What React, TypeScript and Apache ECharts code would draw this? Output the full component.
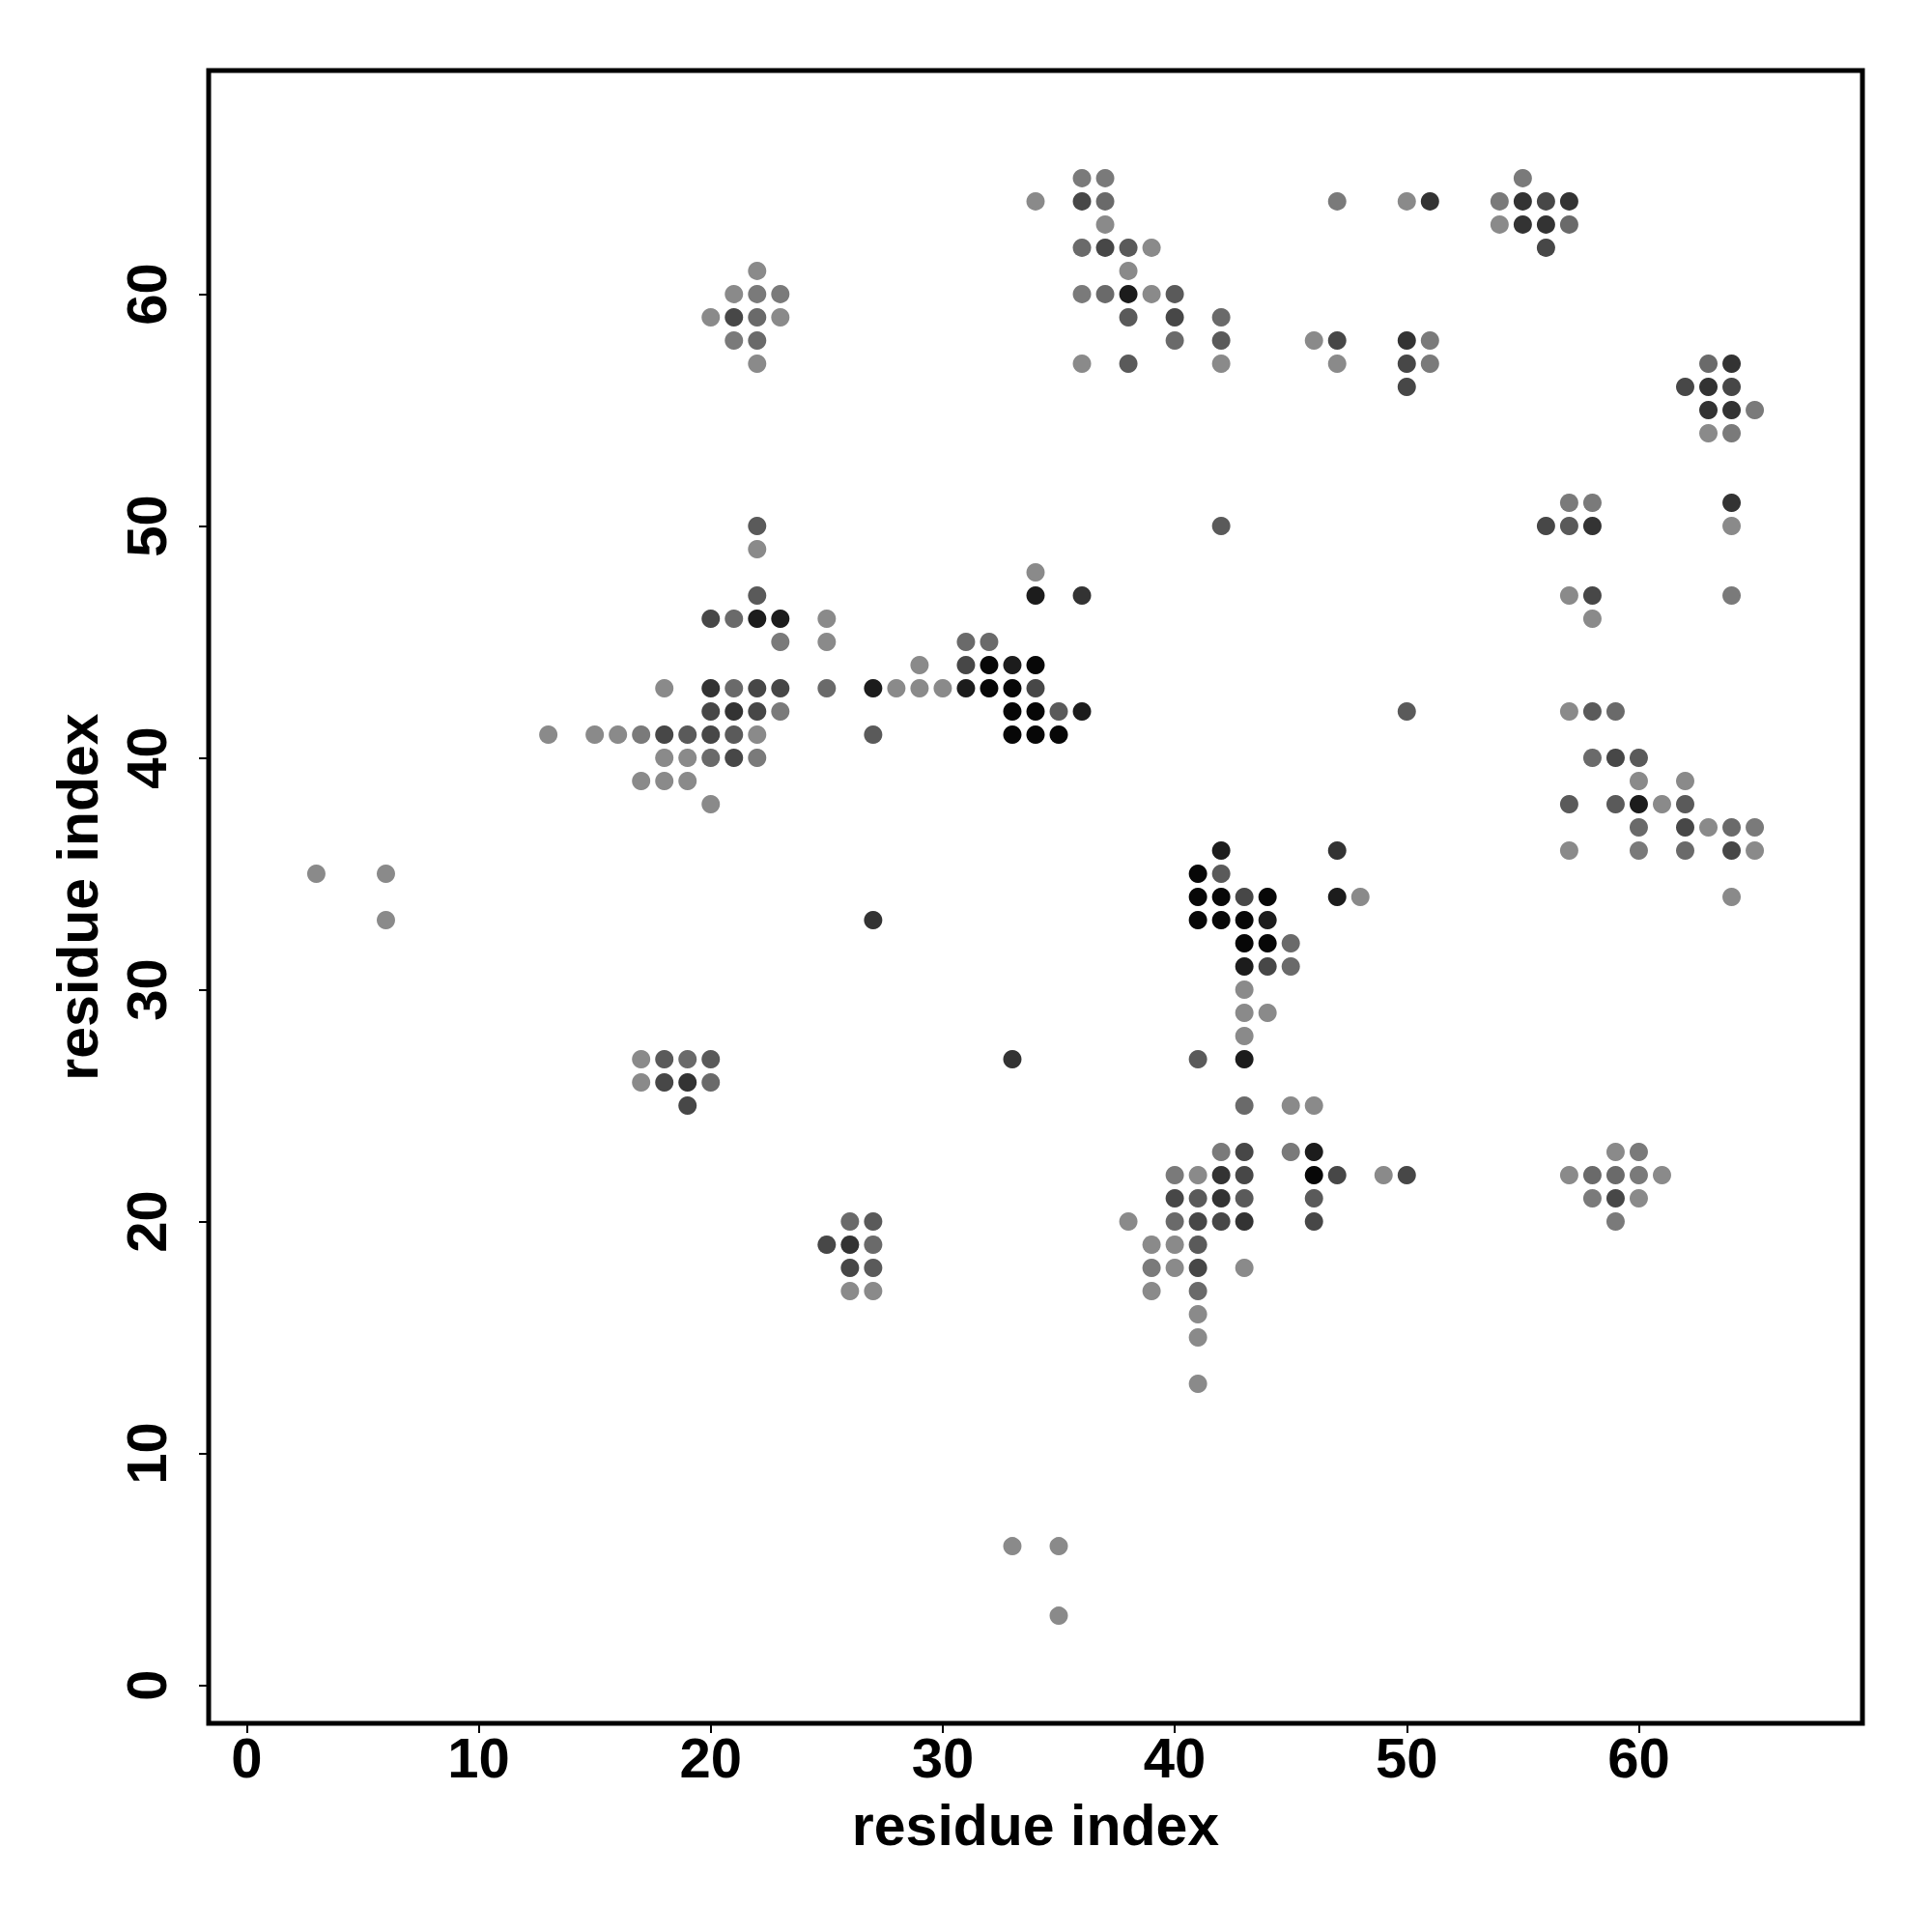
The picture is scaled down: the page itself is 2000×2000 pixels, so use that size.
import React, { useEffect, useRef } from "react";
import * as echarts from "echarts";

// Tick values and axis titles
const tickValues = [0, 10, 20, 30, 40, 50, 60];
const xTitle = "residue index";
const yTitle = "residue index";

// Contacts [residue i, residue j], grouped by shade (0 = darkest / most frequent, 7 = lightest)
const shade0: number[][] = [
  [32, 44], [34, 44], [32, 43], [33, 43], [33, 42], [34, 42], [33, 41], [34, 41], [35, 41],
  [41, 35], [41, 34], [42, 34], [44, 34], [41, 33], [42, 33], [43, 33], [43, 32], [44, 32],
  [46, 22],
];
const shade1: number[][] = [
  [38, 60], [22, 46], [23, 46], [34, 47], [33, 44], [27, 43], [31, 43], [36, 42],
  [60, 38], [42, 36], [47, 34], [44, 33], [43, 31], [43, 27], [46, 23],
];
const shade2: number[][] = [
  [51, 64], [55, 64], [57, 64], [55, 63], [56, 63], [50, 58], [64, 57], [63, 56], [63, 55], [64, 55],
  [20, 43], [21, 42], [36, 47], [64, 51], [58, 50], [47, 36], [42, 22], [42, 21], [43, 20],
  [19, 26], [26, 19], [27, 33], [33, 27],
];
const shade3: number[][] = [
  [21, 59], [36, 64], [37, 62], [40, 59], [47, 58], [50, 57], [50, 56], [56, 64], [56, 62],
  [62, 56], [64, 56], [20, 46], [22, 43], [23, 43], [20, 42], [22, 42], [18, 41], [20, 41], [21, 40],
  [31, 44], [34, 43], [56, 50], [58, 47], [59, 40], [62, 37], [64, 36], [43, 34], [44, 31],
  [43, 23], [43, 22], [47, 22], [50, 22], [40, 21], [41, 20], [42, 20], [46, 20], [41, 18],
  [59, 21], [18, 26], [19, 25], [25, 19], [26, 18],
];
const shade4: number[][] = [
  [38, 62], [40, 60], [38, 59], [42, 58], [38, 57], [22, 50], [22, 47], [19, 41], [21, 41],
  [35, 42], [27, 41], [57, 50], [58, 42], [60, 40], [57, 38], [59, 38], [62, 38], [42, 35],
  [41, 27], [41, 21], [43, 21], [46, 21], [41, 19], [18, 27], [20, 27], [27, 20], [27, 18],
  [42, 50], [50, 42],
];
const shade5: number[][] = [
  [22, 59], [22, 58], [37, 64], [36, 62], [37, 60], [42, 59], [40, 58], [57, 63], [63, 57],
  [21, 46], [21, 43], [20, 40], [31, 45], [32, 45], [25, 43], [59, 42], [58, 40], [60, 37],
  [64, 37], [62, 36], [45, 32], [45, 31], [43, 25], [40, 20], [41, 17], [58, 22], [59, 22],
  [19, 27], [20, 26], [26, 20], [27, 19],
];
const shade6: number[][] = [
  [22, 60], [23, 60], [21, 58], [36, 65], [37, 65], [47, 64], [36, 60], [51, 58], [51, 57],
  [55, 65], [54, 64], [65, 55], [64, 54], [23, 45], [23, 42], [17, 41], [22, 40],
  [57, 51], [58, 51], [64, 47], [65, 37], [60, 36], [42, 23], [45, 23], [40, 22], [39, 18],
  [60, 23], [60, 22], [58, 21], [59, 20],
];
const shade7: number[][] = [
  [22, 61], [21, 60], [20, 59], [23, 59], [22, 57], [34, 64], [50, 64], [37, 63], [39, 62],
  [38, 61], [39, 60], [46, 58], [36, 57], [42, 57], [47, 57], [54, 63], [63, 54],
  [22, 49], [18, 43], [13, 41], [15, 41], [16, 41], [22, 41], [18, 40], [19, 40], [17, 39],
  [18, 39], [19, 39], [20, 38], [34, 48], [25, 46], [25, 45], [29, 44], [28, 43], [29, 43],
  [30, 43], [64, 50], [57, 47], [58, 46], [57, 42], [60, 39], [62, 39], [61, 38], [63, 37],
  [57, 36], [65, 36], [64, 34], [48, 34], [43, 30], [43, 29], [44, 29], [43, 28], [45, 25],
  [46, 25], [41, 22], [49, 22], [38, 20], [39, 19], [40, 19], [40, 18], [43, 18], [39, 17],
  [41, 16], [41, 15], [41, 13], [59, 23], [57, 22], [61, 22], [60, 21], [17, 27], [17, 26],
  [26, 17], [27, 17], [3, 35], [6, 35], [6, 33], [33, 6], [35, 6], [35, 3],
];

const shadeColors = ["#070707", "#1c1c1c", "#333333", "#474747", "#5a5a5a", "#6a6a6a", "#7a7a7a", "#8a8a8a"];

export default function App() {
  const ref = useRef<HTMLDivElement>(null);
  useEffect(() => {
    if (!ref.current) return;
    const chart = echarts.init(ref.current, null, { renderer: "svg" });
    const shades = [shade0, shade1, shade2, shade3, shade4, shade5, shade6, shade7];
    const font = {
      fontFamily: "'Liberation Sans', Arial, Helvetica, sans-serif",
      fontWeight: "bold" as const,
      color: "#000",
    };
    const axisCommon = {
      type: "value" as const,
      min: -1.64,
      max: 69.64,
      splitLine: { show: false },
      axisLine: { show: false, onZero: false },
      axisTick: { show: true, customValues: tickValues, length: 10, lineStyle: { color: "#000", width: 2 } },
      nameLocation: "middle" as const,
      nameMoveOverlap: false,
    };
    chart.setOption({
      animation: false,
      backgroundColor: "#ffffff",
      grid: {
        left: 216,
        top: 73,
        width: 1712,
        height: 1711,
        show: true,
        borderColor: "#000",
        borderWidth: 5,
        backgroundColor: "transparent",
        containLabel: false,
        outerBoundsMode: "none",
      },
      xAxis: {
        ...axisCommon,
        axisLabel: { customValues: tickValues, fontSize: 58, margin: 6, ...font },
        name: xTitle,
        nameGap: 76,
        nameTextStyle: { fontSize: 59, ...font },
      },
      yAxis: {
        ...axisCommon,
        axisLabel: { customValues: tickValues, fontSize: 58, margin: 36, rotate: 90, ...font },
        name: yTitle,
        nameGap: 106,
        nameTextStyle: { fontSize: 59, ...font },
      },
      series: shades.map((d, i) => ({
        type: "scatter",
        data: d,
        symbol: "circle",
        symbolSize: 19,
        silent: true,
        itemStyle: { color: shadeColors[i], opacity: 1 },
        z: 10 - i,
      })),
    });
    return () => chart.dispose();
  }, []);
  return <div ref={ref} style={{ position: "absolute", left: 0, top: 0, width: 2000, height: 2000 }} />;
}
